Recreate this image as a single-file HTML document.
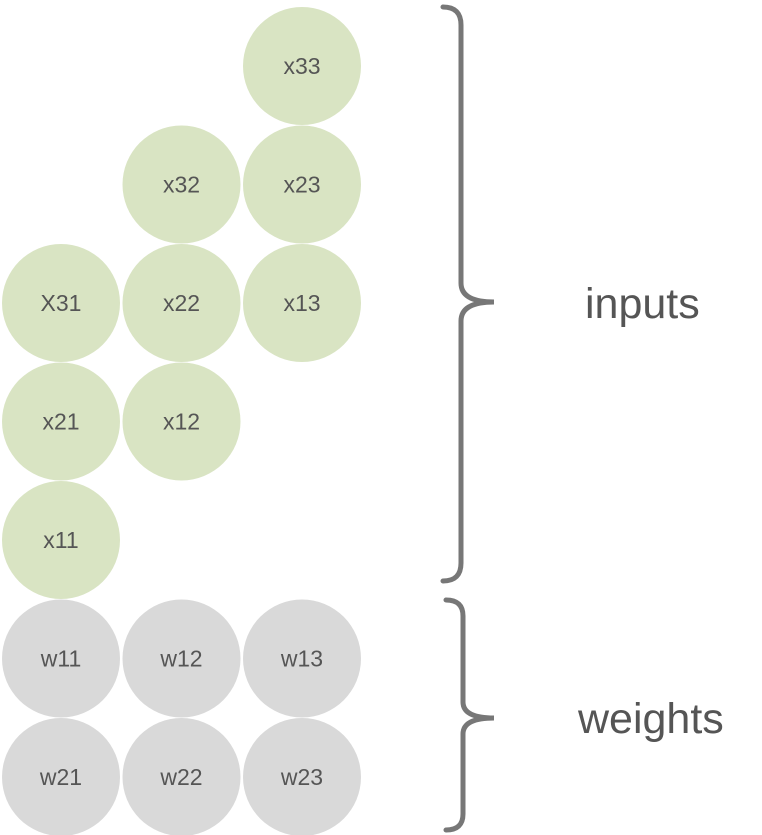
<!DOCTYPE html>
<html>
<head>
<meta charset="utf-8">
<style>
  html,body{margin:0;padding:0;background:#fff;}
  svg{display:block;}
  text{font-family:"Liberation Sans",sans-serif;fill:#555;}
</style>
</head>
<body>
<svg id="chart" width="762" height="835" viewBox="0 0 762 835" xmlns="http://www.w3.org/2000/svg">
  <g id="nodes"></g>
  <path d="M443,7 Q461,7 461,25 L461,283 Q461,302 494,302 Q461,302 461,321 L461,563 Q461,581 443,581" fill="none" stroke="#777" stroke-width="5" stroke-linecap="round"/>
  <path d="M446,600 Q463,600 463,616 L463,702 Q463,718 494,718 Q463,718 463,734 L463,814 Q463,830 446,830" fill="none" stroke="#777" stroke-width="5" stroke-linecap="round"/>
  <text x="585" y="318" font-size="43">inputs</text>
  <text x="578" y="733" font-size="43">weights</text>
</svg>
<script>
const inputLabels = ["x33","x32","x23","X31","x22","x13","x21","x12","x11"];
const inputCols = [2,1,2,0,1,2,0,1,0];
const inputRows = [0,1,1,2,2,2,3,3,4];
const weightLabels = ["w11","w12","w13","w21","w22","w23"];
const weightCols = [0,1,2,0,1,2];
const weightRows = [5,5,5,6,6,6];

const colX = c => 61 + c * 120.5;
const rowY = r => 66 + r * 118.5;
const g = document.getElementById('nodes');
const NS = "http://www.w3.org/2000/svg";

function node(label, c, r, fill, kind) {
  const grp = document.createElementNS(NS, 'g');
  
  
  const circ = document.createElementNS(NS, 'circle');
  circ.setAttribute('cx', colX(c));
  circ.setAttribute('cy', rowY(r));
  circ.setAttribute('r', 59);
  circ.setAttribute('fill', fill);
  
  
  const t = document.createElementNS(NS, 'text');
  t.setAttribute('x', colX(c));
  t.setAttribute('y', rowY(r) + 8);
  t.setAttribute('text-anchor', 'middle');
  t.setAttribute('font-size', '23');
  
  
  t.textContent = label;
  grp.appendChild(circ);
  grp.appendChild(t);
  g.appendChild(grp);
}
inputLabels.forEach((l, i) => node(l, inputCols[i], inputRows[i], '#d9e4c3', 'input'));
weightLabels.forEach((l, i) => node(l, weightCols[i], weightRows[i], '#d9d9d9', 'weight'));
</script>
</body>
</html>
